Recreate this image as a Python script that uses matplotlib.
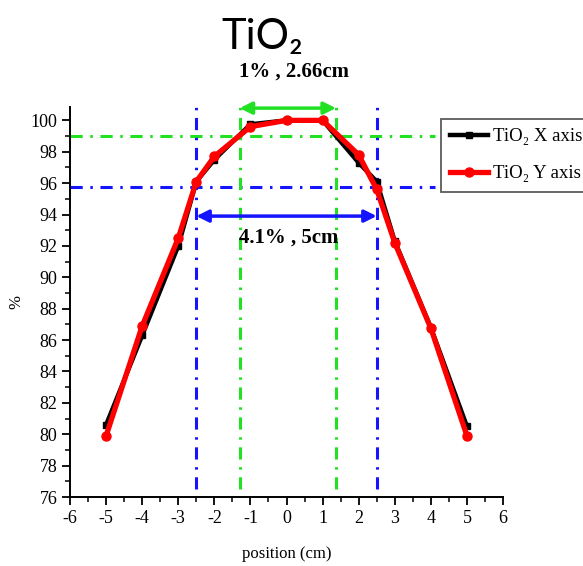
import numpy as np
import matplotlib
matplotlib.use("Agg")
from matplotlib import pyplot as plt
from matplotlib.ticker import MultipleLocator

# positions (cm)
pos = [-5, -4, -3, -2.5, -2, -1, 0, 1, 2, 2.5, 3, 4, 5]
# TiO2 profile along X axis (%)
x_axis = [80.6, 86.3, 92.0, 96.1, 97.5, 99.75, 100.0, 100.0, 97.3, 96.1, 92.3, 86.8, 80.5]
# TiO2 profile along Y axis (%)
y_axis = [79.9, 86.9, 92.5, 96.1, 97.7, 99.6, 100.0, 100.0, 97.8, 95.6, 92.2, 86.75, 79.9]

# reference levels / field widths
lvl_1pct = 99.0
lvl_41pct = 95.75
green_x = [-1.3, 1.37]
blue_x = [-2.5, 2.5]

serif = ["Liberation Serif", "DejaVu Serif"]
plt.rcParams["font.family"] = serif
plt.rcParams["axes.unicode_minus"] = False

fig = plt.figure(figsize=(5.83, 5.66), dpi=100)
ax = fig.add_axes([0.1201, 0.1219, 0.7427, 0.689])

green = "#22e022"
blue = "#1414ff"
dash = (0, (4, 2.5, 0.8, 2.5))

# horizontal guide lines
ax.plot([-6, 4.12], [lvl_1pct, lvl_1pct], color=green, lw=2.2, ls=dash, clip_on=False, zorder=1)
ax.plot([-6, 4.12], [lvl_41pct, lvl_41pct], color=blue, lw=2.2, ls=dash, clip_on=False, zorder=1)
# vertical guide lines
for xv in green_x:
    ax.plot([xv, xv], [76.5, 100.85], color=green, lw=2.2, ls=dash, clip_on=False, zorder=1)
for xv in blue_x:
    ax.plot([xv, xv], [76.5, 100.85], color=blue, lw=2.2, ls=dash, clip_on=False, zorder=1)

# data
ax.plot(pos, x_axis, color="black", lw=3.2, marker="s", ms=5, label="TiO\u2082 X axis", zorder=3)
ax.plot(pos, y_axis, color="red", lw=3.8, marker="o", ms=6.5, label="TiO\u2082 Y axis", zorder=4)

# arrows
ax.annotate("", xy=(green_x[0], 100.78), xytext=(green_x[1], 100.78),
            arrowprops=dict(arrowstyle="<|-|>", color=green, lw=2.5, mutation_scale=18,
                            shrinkA=0, shrinkB=0), annotation_clip=False)
ax.annotate("", xy=(blue_x[0], 93.9), xytext=(blue_x[1], 93.9),
            arrowprops=dict(arrowstyle="<|-|>", color=blue, lw=2.5, mutation_scale=18,
                            shrinkA=0, shrinkB=0))
ax.text(0.05, 92.55, "4.1% , 5cm", ha="center", va="center", fontsize=15, fontweight="bold")

ax.set_xlim(-6, 6)
ax.set_ylim(76, 100.85)
ax.xaxis.set_major_locator(MultipleLocator(1))
ax.xaxis.set_minor_locator(MultipleLocator(0.5))
ax.yaxis.set_minor_locator(MultipleLocator(1))
ax.set_yticks(np.arange(76, 101, 2))
ax.tick_params(which="major", direction="out", length=6, width=1.3, labelsize=13, pad=3)
ax.tick_params(which="minor", direction="out", length=3.5, width=1.1)
ax.spines["top"].set_visible(False)
ax.spines["right"].set_visible(False)
ax.spines["left"].set_linewidth(1.4)
ax.spines["bottom"].set_linewidth(1.4)
ax.set_xlabel("position (cm)", fontsize=12, labelpad=14)
ax.set_ylabel("%", fontsize=12)
ax.yaxis.set_label_coords(-0.105, 0.5)

leg = ax.legend(loc="upper left", bbox_to_anchor=(441 / 583, 1 - 119 / 566),
                bbox_transform=fig.transFigure, fontsize=13.5, frameon=True, fancybox=False,
                edgecolor="#333333", borderpad=0.5, borderaxespad=0, handlelength=2.0,
                handletextpad=0.25, labelspacing=1.05)
leg.get_frame().set_linewidth(1.3)

fig.text(262 / 583, 1 - 37 / 566, "TiO\u2082", ha="center", va="center", fontsize=30,
         family=["Lato", "DejaVu Sans"])
fig.text(294 / 583, 1 - 72 / 566, "1% , 2.66cm", ha="center", va="center", fontsize=15,
         fontweight="bold")

fig.savefig("out.png", dpi=100)
